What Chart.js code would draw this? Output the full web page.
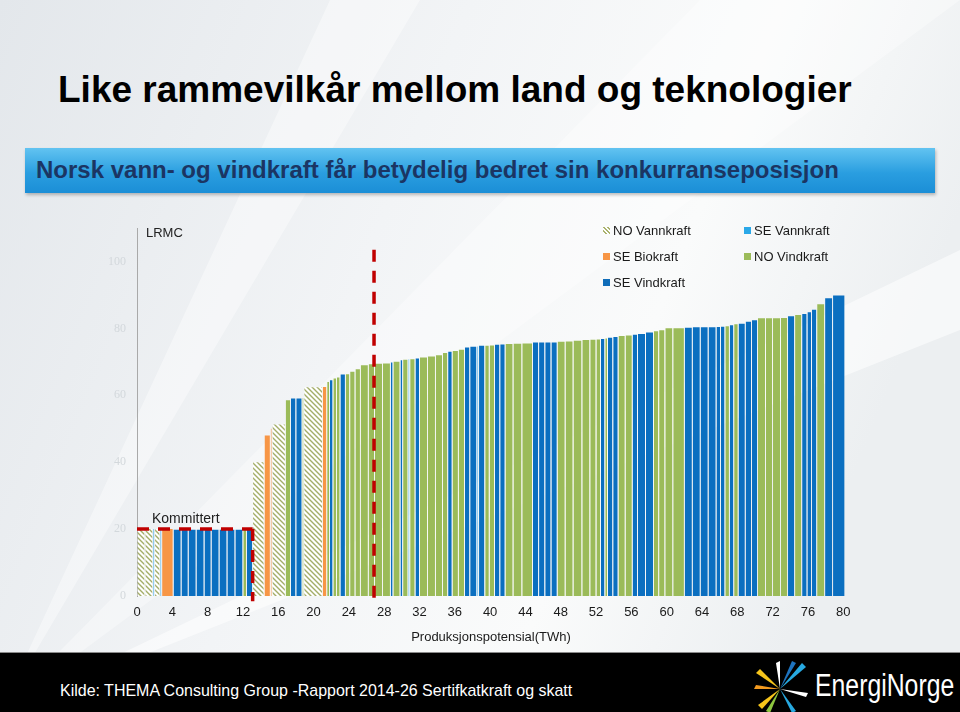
<!DOCTYPE html>
<html lang="no">
<head>
  <meta charset="UTF-8" />
  <title>Like rammevilkår mellom land og teknologier</title>
  <script src="https://cdn.jsdelivr.net/npm/chart.js@4"></script>
  <style>
    body {
      margin: 0;
      font-family: 'Liberation Sans', Arial, sans-serif;
    }
    #slide {
      position: relative;
      width: 960px;
      height: 712px;
      overflow: hidden;
      background: #eef1f3;
    }
    #bg {
      position: absolute;
      left: 0;
      top: 0;
    }
    h1 {
      position: absolute;
      left: 58px;
      top: 69px;
      margin: 0;
      font-size: 37px;
      font-weight: bold;
      color: #000;
      white-space: nowrap;
    }
    .banner {
      position: absolute;
      left: 25px;
      top: 148px;
      width: 910px;
      height: 45px;
      background: linear-gradient(#62c3f1, #2a9ee0 55%, #1b8ed6);
      box-shadow: 1px 2px 3px rgba(0,0,0,0.25);
    }
    .banner span {
      position: absolute;
      left: 11px;
      top: 8px;
      font-size: 24px;
      font-weight: bold;
      color: #1b3563;
      white-space: nowrap;
    }
    #chartBox {
      position: absolute;
      left: 0;
      top: 200px;
      width: 960px;
      height: 452px;
    }
    .note {
      position: absolute;
      font-size: 14px;
      color: #222;
      white-space: nowrap;
    }
    .legend {
      position: absolute;
      font-size: 13px;
      color: #1a1a1a;
      white-space: nowrap;
    }
    .legend i {
      display: inline-block;
      width: 7px;
      height: 7px;
      margin-right: 3px;
      vertical-align: 1px;
    }
    footer {
      position: absolute;
      left: 0;
      top: 652px;
      width: 960px;
      height: 60px;
      background: #000;
      border-top: 1px solid #8a8a8a;
    }
    footer .src {
      position: absolute;
      left: 60px;
      top: 28px;
      font-size: 17px;
      color: #fff;
      white-space: nowrap;
      transform: scaleX(0.94);
      transform-origin: left center;
    }
    footer .brand {
      position: absolute;
      left: 815px;
      top: 15px;
      font-size: 31px;
      color: #fff;
      white-space: nowrap;
      transform: scaleX(0.8);
      transform-origin: left center;
    }
    footer svg {
      position: absolute;
      left: 752px;
      top: 6px;
    }
  </style>
</head>
<body>
<div id="slide">
  <svg id="bg" width="960" height="712">
    <defs>
      <linearGradient id="bgGrad" x1="0" y1="0" x2="1" y2="0.3">
        <stop offset="0" stop-color="#e3e7eb" />
        <stop offset="0.45" stop-color="#f2f4f6" />
        <stop offset="0.75" stop-color="#fafbfb" />
        <stop offset="1" stop-color="#eceff1" />
      </linearGradient>
    </defs>
    <rect width="960" height="712" fill="url(#bgGrad)" />
    <polygon points="0,712 960,250 960,330" fill="#ffffff" opacity="0.55" />
    <polygon points="0,712 700,0 960,0" fill="#ffffff" opacity="0.35" />
    <polygon points="0,712 330,0 420,0" fill="#ffffff" opacity="0.4" />
  </svg>

  <h1>Like rammevilkår mellom land og teknologier</h1>
  <div class="banner"><span>Norsk vann- og vindkraft får betydelig bedret sin konkurranseposisjon</span></div>

  <div id="chartBox"><canvas id="supplyChart" width="960" height="452"></canvas></div>

  <div class="note" style="left:146px; top:225px; font-size:13px;">LRMC</div>
  <div class="note" style="left:152px; top:510px;">Kommittert</div>

  <div class="legend" style="left:603px; top:223px;"><i style="background:repeating-linear-gradient(45deg,#fff 0 1.5px,#a9b26d 1.5px 3px);"></i>NO Vannkraft</div>
  <div class="legend" style="left:744px; top:223px;"><i style="background:#2aa8e8;"></i>SE Vannkraft</div>
  <div class="legend" style="left:603px; top:249px;"><i style="background:#f79646;"></i>SE Biokraft</div>
  <div class="legend" style="left:744px; top:249px;"><i style="background:#9bbb59;"></i>NO Vindkraft</div>
  <div class="legend" style="left:603px; top:275px;"><i style="background:#0f6db9;"></i>SE Vindkraft</div>

  <footer>
    <div class="src">Kilde: THEMA Consulting Group -Rapport 2014-26 Sertifkatkraft og skatt</div>
    <svg width="60" height="54">
      <polygon points="28,30 4,14 8,10" fill="#f6c51b" />
      <polygon points="28,30 2,30 4,26" fill="#f39a1f" />
      <polygon points="28,30 10,50 6,46" fill="#f6c51b" />
      <polygon points="28,30 18,54 14,52" fill="#8dc63f" />
      <polygon points="28,30 50,4 54,8" fill="#27a9e1" />
      <polygon points="28,30 40,2 44,4" fill="#1e73be" />
      <polygon points="28,30 56,34 54,38" fill="#ffffff" />
      <polygon points="28,30 44,52 40,54" fill="#27a9e1" />
      <polygon points="28,30 24,4 28,2" fill="#ffffff" />
    </svg>
    <div class="brand">EnergiNorge</div>
  </footer>
</div>

<script>
  // Supply curve: one entry per plant/block, in merit order
  const segTypes = [
    'NOV', 'NOV', 'SEV', 'NOV', 'SEV', 'SEB',
    'SEW', 'SEW', 'SEW', 'SEW', 'SEW', 'SEW', 'SEW', 'SEW', 'SEW', 'NOW', 'SEW',
    'NOV', 'SEB', 'SEB', 'NOV', 'NOW', 'SEW', 'SEW', 'NOW', 'NOV', 'SEB',
    'NOW', 'SEW', 'NOW', 'NOW', 'SEW', 'NOW', 'NOW', 'NOW', 'NOW', 'NOW',
    'NOW', 'NOW', 'SEW', 'NOW', 'SEW', 'NOW', 'SEV', 'NOW', 'SEW', 'NOW',
    'NOW', 'NOW', 'NOW', 'SEW', 'NOW', 'NOW', 'SEW', 'SEW', 'SEV', 'SEW',
    'NOW', 'NOW',
    'SEW', 'SEW', 'NOW', 'NOW', 'NOW', 'SEW', 'SEW', 'SEW', 'SEW', 'NOW',
    'NOW', 'NOW', 'NOW', 'NOW', 'NOW',
    'SEW', 'NOW', 'SEW', 'SEW', 'NOW', 'NOW', 'SEW', 'SEW', 'SEW', 'NOW',
    'NOW', 'NOW', 'NOW', 'SEW', 'SEW', 'SEW', 'SEW',
    'SEW', 'SEW', 'NOW', 'SEW', 'NOW', 'SEW', 'SEW', 'SEW', 'NOW', 'NOW',
    'NOW', 'NOW', 'SEW', 'NOW', 'SEW', 'SEW', 'SEW', 'NOW', 'SEW', 'SEW'
  ];
  const segWidths = [
    0.9, 0.9, 0.2, 0.6, 0.2, 1.3,
    0.9, 0.8, 0.9, 0.9, 0.8, 0.9, 0.9, 0.9, 0.9, 0.4, 0.7,
    1.3, 0.7, 0.2, 1.5, 0.6, 0.6, 0.7, 0.2, 2.1, 0.5,
    0.3, 0.4, 0.4, 0.4, 0.6, 0.5, 0.6, 0.6, 0.9, 0.7,
    0.9, 0.9, 0.3, 0.8, 0.3, 0.6, 0.2, 0.6, 0.5, 0.9,
    0.9, 0.8, 0.6, 0.5, 0.7, 0.7, 0.6, 0.8, 0.2, 0.7,
    0.5, 0.6,
    0.6, 0.6, 0.9, 1.0, 1.2, 0.7, 0.7, 0.7, 0.7, 0.9,
    0.9, 1.0, 0.9, 0.7, 0.5,
    0.5, 0.3, 0.6, 0.6, 0.8, 0.8, 0.6, 0.9, 0.9, 0.6,
    0.7, 0.9, 1.3, 0.9, 0.9, 0.9, 0.9,
    0.5, 0.5, 0.5, 0.5, 0.5, 0.8, 0.7, 0.7, 0.9, 0.8,
    0.9, 0.8, 0.8, 0.8, 0.6, 0.5, 0.6, 0.9, 0.9, 1.4
  ];
  const segLrmc = [
    20, 20, 20, 20, 20, 20,
    19.8, 19.8, 19.8, 19.8, 19.8, 19.8, 19.8, 19.8, 19.8, 19.8, 19.8,
    40, 48, 50, 51.3, 58.5, 59, 59, 59.2, 62.4, 62.5,
    64, 64.5, 65, 65.3, 66.2, 66.3, 67, 67.8, 69, 69.3,
    69.4, 69.5, 69.8, 70, 70.5, 70.6, 70.8, 70.8, 71, 71.3,
    71.6, 72, 72.6, 73, 73.2, 73.6, 74.3, 74.5, 74.6, 74.8,
    74.8, 74.9,
    75.1, 75.2, 75.3, 75.4, 75.5, 75.8, 75.8, 75.8, 75.8, 76,
    76.1, 76.3, 76.5, 76.6, 76.7,
    76.8, 77, 77.2, 77.4, 77.7, 77.9, 78.1, 78.3, 78.8, 79.1,
    79.4, 80, 80, 80.2, 80.3, 80.3, 80.3,
    80.4, 80.5, 80.6, 80.9, 81.2, 81.4, 82, 82.4, 83, 83,
    83, 83.1, 83.6, 84, 84.3, 84.8, 85.6, 87.2, 89, 89.8
  ];

  const xTickLabels = [0, 4, 8, 12, 16, 20, 24, 28, 32, 36, 40, 44, 48, 52, 56, 60, 64, 68, 72, 76, 80];
  const yTickLabels = [0, 20, 40, 60, 80, 100];

  // red markers: committed volume at 20, and the target line
  const committedTWh = 13.1;
  const committedLrmc = 20;
  const targetTWh = 26.85;
  const targetTop = 103.5;

  function makeHatch() {
    const c = document.createElement('canvas');
    c.width = 5;
    c.height = 5;
    const g = c.getContext('2d');
    g.fillStyle = '#ffffff';
    g.fillRect(0, 0, 5, 5);
    g.strokeStyle = '#a3ad68';
    g.lineWidth = 1.4;
    g.beginPath();
    g.moveTo(-1, -1); g.lineTo(6, 6);
    g.moveTo(-1, 4); g.lineTo(1, 6);
    g.moveTo(4, -1); g.lineTo(6, 1);
    g.stroke();
    return g.createPattern(c, 'repeat');
  }

  const fills = {
    NOV: makeHatch(),
    SEV: '#3aa9e6',
    SEB: '#f79646',
    NOW: '#9bbb59',
    SEW: '#0b6fc0'
  };

  const gap = 0.045;
  const datasets = [];
  let start = 0;
  segWidths.forEach((w, i) => {
    const a = start;
    const b = start + w;
    start = b;
    datasets.push({
      data: [{ x: a + gap, y: segLrmc[i] }, { x: b - gap, y: segLrmc[i] }],
      backgroundColor: fills[segTypes[i]],
      borderWidth: 0,
      pointRadius: 0,
      fill: 'origin',
      order: 2
    });
  });

  const dashed = {
    borderColor: '#c00000',
    borderWidth: 3.5,
    borderDash: [12, 9],
    pointRadius: 0,
    fill: false,
    clip: false,
    order: 0
  };
  datasets.push(Object.assign({ data: [{ x: 0, y: committedLrmc }, { x: committedTWh, y: committedLrmc }] }, dashed));
  datasets.push(Object.assign({ data: [{ x: committedTWh, y: committedLrmc }, { x: committedTWh, y: -1.6 }] }, dashed));
  datasets.push(Object.assign({ data: [{ x: targetTWh, y: targetTop }, { x: targetTWh, y: -0.7 }] }, dashed));

  new Chart(document.getElementById('supplyChart'), {
    type: 'line',
    data: { datasets: datasets },
    options: {
      responsive: false,
      animation: false,
      layout: { padding: { top: 28, right: 115, left: 0, bottom: 0 } },
      plugins: {
        legend: { display: false },
        tooltip: { enabled: false }
      },
      scales: {
        x: {
          type: 'linear',
          min: 0,
          max: 80.2,
          afterFit: s => { s.height = 56; },
          afterBuildTicks: s => { s.ticks = xTickLabels.map(v => ({ value: v })); },
          grid: { color: 'transparent', drawTicks: false },
          border: { display: false },
          ticks: {
            color: '#1a1a1a',
            font: { family: 'Liberation Sans', size: 13 },
            padding: 9,
            maxRotation: 0,
            autoSkip: false
          },
          title: {
            display: true,
            text: 'Produksjonspotensial(TWh)',
            color: '#1a1a1a',
            font: { family: 'Liberation Sans', size: 13 },
            padding: { top: 0, bottom: 7 }
          }
        },
        y: {
          min: 0,
          max: 110,
          afterFit: s => { s.width = 137; },
          afterBuildTicks: s => { s.ticks = yTickLabels.map(v => ({ value: v })); },
          grid: { color: 'transparent', drawTicks: false },
          border: { display: true, color: '#a9a9a9', width: 1 },
          ticks: {
            color: '#d3d8dc',
            font: { family: 'Liberation Serif', size: 12 },
            padding: 11
          }
        }
      }
    }
  });
</script>
</body>
</html>
